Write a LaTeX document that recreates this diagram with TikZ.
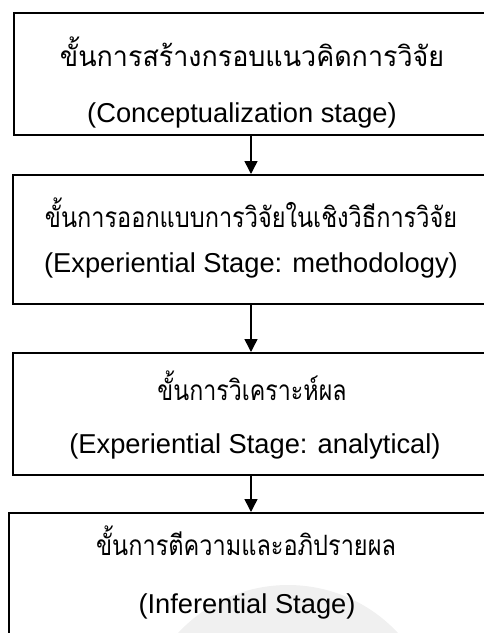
\documentclass[tikz,border=0pt]{standalone}
\usepackage{fontspec}
\setmainfont{Liberation Sans}
\newfontfamily\thaifont[Script=Thai]{Loma}
\usetikzlibrary{arrows.meta}
\tikzset{
  stagebox/.style={draw=black, line width=1.6pt},
  thaitext/.style={anchor=base, inner sep=0pt, font=\thaifont\fontsize{28}{32}\selectfont},
  engtext/.style={anchor=base, inner sep=0pt, font=\fontsize{27.3}{32}\selectfont},
  flow/.style={line width=1.5pt, -{Triangle[width=13pt,length=13pt]}}
}
\begin{document}
\begin{tikzpicture}[x=1pt,y=-1pt]
\useasboundingbox (0,0) rectangle (484,633);
\clip (0,0) rectangle (484,633);
% faint watermark
\fill[black!6] (288,735) circle (150);
% boxes
\node[stagebox, minimum width=477pt, minimum height=122pt, anchor=north west, inner sep=0pt] (b1) at (13,12) {};
\node[stagebox, minimum width=478pt, minimum height=129pt, anchor=north west, inner sep=0pt] (b2) at (12,174) {};
\node[stagebox, minimum width=478pt, minimum height=122pt, anchor=north west, inner sep=0pt] (b3) at (12,352) {};
\node[stagebox, minimum width=482pt, minimum height=135pt, anchor=north west, inner sep=0pt] (b4) at (8,512) {};
% texts
\node[thaitext] (t1) at (252,66) {\scalebox{0.96}[1]{ขั้นการสร้างกรอบแนวคิดการวิจัย}};
\node[engtext] (e1) at (242,122) {(Conceptualization stage)};
\node[thaitext] (t2) at (251,227) {\scalebox{0.84}[1]{ขั้นการออกแบบการวิจัยในเชิงวิธีการวิจัย}};
\node[engtext] (e2) at (251,272) {(Experiential Stage: methodology)};
\node[thaitext] (t3) at (252,400) {\scalebox{0.83}[1]{ขั้นการวิเคราะห์ผล}};
\node[engtext] (e3) at (255,453) {(Experiential Stage: analytical)};
\node[thaitext] (t4) at (246,555) {\scalebox{0.84}[1]{ขั้นการตีความและอภิปรายผล}};
\node[engtext] (e4) at (247,613) {(Inferential Stage)};
% connectors
\coordinate (a1) at (251,134);
\coordinate (a2) at (251,174);
\coordinate (a3) at (251,303);
\coordinate (a4) at (251,352);
\coordinate (a5) at (251,474);
\coordinate (a6) at (251,512);
\draw[flow] (a1) -- (a2);
\draw[flow] (a3) -- (a4);
\draw[flow] (a5) -- (a6);
\end{tikzpicture}
\end{document}
